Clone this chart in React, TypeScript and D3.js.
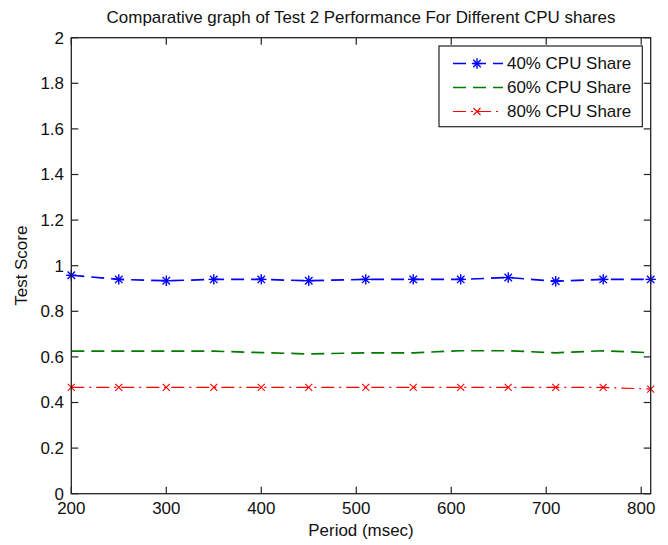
import React from "react";
import * as d3 from "d3";

const periods = [200, 250, 300, 350, 400, 450, 510, 560, 610, 660, 710, 760, 810];
const share40 = [0.958, 0.94, 0.934, 0.94, 0.94, 0.934, 0.94, 0.94, 0.94, 0.948, 0.932, 0.94, 0.94];
const share60 = [0.625, 0.625, 0.625, 0.625, 0.619, 0.613, 0.618, 0.618, 0.627, 0.627, 0.618, 0.627, 0.618];
const share80 = [0.466, 0.466, 0.466, 0.466, 0.466, 0.466, 0.466, 0.466, 0.466, 0.466, 0.466, 0.466, 0.459];
const seriesNames = ["40% CPU Share", "60% CPU Share", "80% CPU Share"];
const xTickValues = [200, 300, 400, 500, 600, 700, 800];
const yTickValues = [0, 0.2, 0.4, 0.6, 0.8, 1, 1.2, 1.4, 1.6, 1.8, 2];
const title = "Comparative graph of Test 2 Performance For Different CPU shares";
const xLabel = "Period (msec)";
const yLabel = "Test Score";

const W = 668;
const H = 545;
const M = { left: 71.3, right: 650.7, top: 37.7, bottom: 493.7 };
const FONT = "'Liberation Sans', Arial, sans-serif";
const FS = 16;
const SX = 1.06;

type Series = { name: string; values: number[]; color: string; width: number; dash: string; marker: "star" | "x" | "none" };

const series: Series[] = [
  { name: seriesNames[0], values: share40, color: "#0000ff", width: 1.7, dash: "13,7", marker: "star" },
  { name: seriesNames[1], values: share60, color: "#007a00", width: 1.7, dash: "13,7", marker: "none" },
  { name: seriesNames[2], values: share80, color: "#ff0000", width: 1.2, dash: "13,5,2,5", marker: "x" },
];

function T({ x, y, anchor = "start", rotate = 0, children, size = FS }: any) {
  const tr = `translate(${x},${y})${rotate ? ` rotate(${rotate})` : ""} scale(${SX},1)`;
  return (
    <text transform={tr} textAnchor={anchor} fontFamily={FONT} fontSize={size} fill="#111">
      {children}
    </text>
  );
}

function Marker({ kind, cx, cy, color }: { kind: string; cx: number; cy: number; color: string }) {
  if (kind === "star") {
    const r = 5.2;
    const d = r * 0.72;
    return (
      <g stroke={color} strokeWidth={1.4}>
        <line x1={cx - r} y1={cy} x2={cx + r} y2={cy} />
        <line x1={cx} y1={cy - r} x2={cx} y2={cy + r} />
        <line x1={cx - d} y1={cy - d} x2={cx + d} y2={cy + d} />
        <line x1={cx - d} y1={cy + d} x2={cx + d} y2={cy - d} />
      </g>
    );
  }
  if (kind === "x") {
    const r = 3.5;
    return (
      <g stroke={color} strokeWidth={1.1}>
        <line x1={cx - r} y1={cy - r} x2={cx + r} y2={cy + r} />
        <line x1={cx - r} y1={cy + r} x2={cx + r} y2={cy - r} />
      </g>
    );
  }
  return null;
}

export default function App() {
  const x = d3.scaleLinear().domain([200, 810]).range([M.left, M.right]);
  const y = d3.scaleLinear().domain([0, 2]).range([M.bottom, M.top]);
  const line = d3
    .line<number>()
    .x((_, i) => x(periods[i]))
    .y((v) => y(v));
  const fmt = d3.format("~g");
  const tick = 7;

  const lg = { x0: 439, x1: 642.3, y0: 46, y1: 126.7 };
  const rowY = [63.5, 87.5, 111.5];

  return (
    <svg width={W} height={H} style={{ position: "absolute", left: 0, top: 0, background: "#fff" }}>
      <rect x={0} y={0} width={W} height={H} fill="#fff" />
      {series.map((s) => (
        <g key={s.name}>
          <path d={line(s.values) || ""} fill="none" stroke={s.color} strokeWidth={s.width} strokeDasharray={s.dash} />
          {s.values.map((v, i) => (
            <Marker key={i} kind={s.marker} cx={x(periods[i])} cy={y(v)} color={s.color} />
          ))}
        </g>
      ))}
      <rect x={M.left} y={M.top} width={M.right - M.left} height={M.bottom - M.top} fill="none" stroke="#222" strokeWidth={1.3} />
      {xTickValues.map((t) => (
        <g key={"xt" + t} stroke="#222" strokeWidth={1.2}>
          <line x1={x(t)} x2={x(t)} y1={M.bottom} y2={M.bottom - tick} />
          <line x1={x(t)} x2={x(t)} y1={M.top} y2={M.top + tick} />
        </g>
      ))}
      {yTickValues.map((t) => (
        <g key={"yt" + t} stroke="#222" strokeWidth={1.2}>
          <line x1={M.left} x2={M.left + tick} y1={y(t)} y2={y(t)} />
          <line x1={M.right} x2={M.right - tick} y1={y(t)} y2={y(t)} />
        </g>
      ))}
      {xTickValues.map((t) => (
        <T key={"xl" + t} x={x(t)} y={514} anchor="middle">
          {fmt(t)}
        </T>
      ))}
      {yTickValues.map((t) => (
        <T key={"yl" + t} x={64} y={y(t) + 5.8} anchor="end">
          {fmt(t)}
        </T>
      ))}
      <T x={(M.left + M.right) / 2} y={535.5} anchor="middle">
        {xLabel}
      </T>
      <T x={27} y={(M.top + M.bottom) / 2} anchor="middle" rotate={-90}>
        {yLabel}
      </T>
      <T x={(M.left + M.right) / 2} y={23} anchor="middle">
        {title}
      </T>
      <rect x={lg.x0} y={lg.y0} width={lg.x1 - lg.x0} height={lg.y1 - lg.y0} fill="#fff" stroke="#222" strokeWidth={1.2} />
      {series.map((s, i) => (
        <g key={"lg" + i}>
          <line x1={453} x2={503} y1={rowY[i]} y2={rowY[i]} stroke={s.color} strokeWidth={s.width} strokeDasharray={s.dash} />
          <Marker kind={s.marker} cx={477} cy={rowY[i]} color={s.color} />
          <T x={507} y={rowY[i] + 5.8}>
            {s.name}
          </T>
        </g>
      ))}
    </svg>
  );
}
